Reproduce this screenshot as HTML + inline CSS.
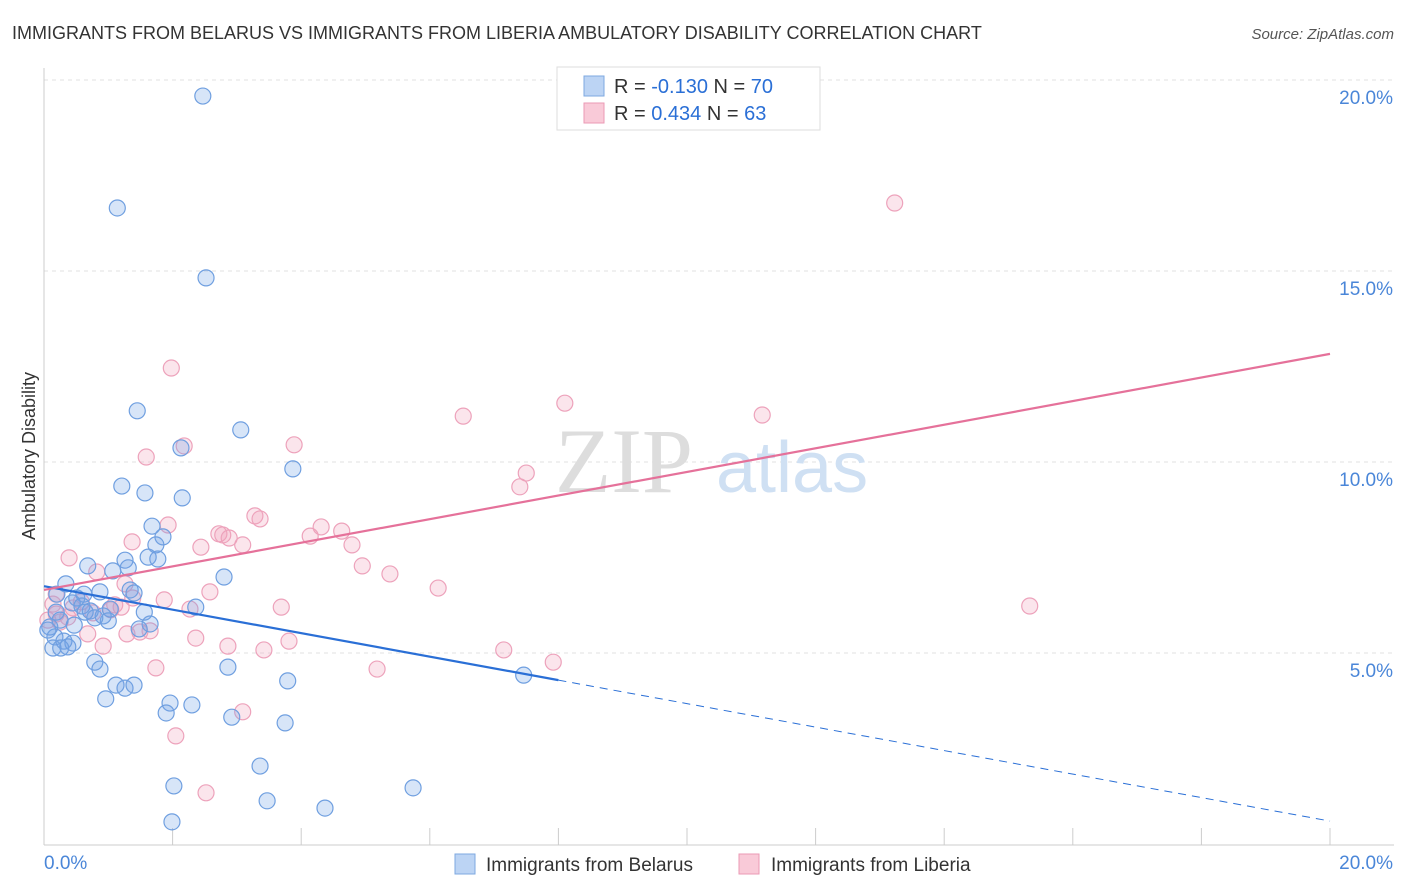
<!DOCTYPE html>
<html><head><meta charset="utf-8"><style>
body{margin:0;background:#fff;font-family:"Liberation Sans",sans-serif;}
svg{display:block}
</style></head><body>
<svg width="1406" height="892" viewBox="0 0 1406 892">
<text x="12" y="39" font-size="18" fill="#333">IMMIGRANTS FROM BELARUS VS IMMIGRANTS FROM LIBERIA AMBULATORY DISABILITY CORRELATION CHART</text>
<text x="1394" y="39" font-size="15" fill="#555" font-style="italic" text-anchor="end">Source: ZipAtlas.com</text>
<g id="grid"></g>
<text x="555" y="492" font-size="92" fill="#ddd" font-family="Liberation Serif,serif">ZIP</text>
<text x="716" y="492" font-size="72" fill="#cfe0f3">atlas</text>
<text transform="translate(35,456) rotate(-90)" font-size="18" fill="#333" text-anchor="middle">Ambulatory Disability</text>
<g id="marks"></g>
<g>
<rect x="557" y="67" width="263" height="63" fill="#fff" stroke="#ddd"/>
<rect x="584" y="76" width="20" height="20" fill="#bcd4f4" stroke="#7ea8e0"/>
<rect x="584" y="103" width="20" height="20" fill="#f9cad8" stroke="#eb9ab5"/>
<text x="614" y="93" font-size="20" fill="#333">R = <tspan fill="#2a6fd6">-0.130</tspan>   N = <tspan fill="#2a6fd6">70</tspan></text>
<text x="614" y="120" font-size="20" fill="#333">R =  <tspan fill="#2a6fd6">0.434</tspan>   N = <tspan fill="#2a6fd6">63</tspan></text>
</g>
<g>
<rect x="455" y="854" width="20" height="20" fill="#bcd4f4" stroke="#7ea8e0"/>
<text x="486" y="871" font-size="19" fill="#333">Immigrants from Belarus</text>
<rect x="739" y="854" width="20" height="20" fill="#f9cad8" stroke="#eb9ab5"/>
<text x="771" y="871" font-size="19" fill="#333">Immigrants from Liberia</text>
</g>
</svg>
<script>
const yTicks=[5,10,15,20];
const yTickLabels=["5.0%","10.0%","15.0%","20.0%"];
const xTicks=[0,2,4,6,8,10,12,14,16,18,20];
const blueX=[2.47,1.14,2.52,1.45,3.06,2.13,3.87,1.21,1.57,2.15,1.68,1.85,1.74,1.62,1.77,1.26,0.68,1.07,1.31,2.80,0.34,1.34,1.40,0.87,0.62,0.20,0.51,0.44,0.59,2.36,1.56,0.72,0.92,1.00,0.79,0.25,0.47,0.09,1.65,1.48,0.17,0.31,0.45,0.14,0.26,0.37,0.79,0.87,2.86,7.46,3.79,1.12,1.26,1.40,0.96,1.96,2.30,1.90,2.92,3.75,3.36,2.02,5.74,3.47,4.37,1.99,0.06,0.19,0.64,1.03];
const blueY=[19.58,16.65,14.82,11.34,10.84,10.37,9.82,9.37,9.19,9.06,8.32,8.04,7.83,7.51,7.46,7.43,7.28,7.15,7.23,6.99,6.81,6.65,6.57,6.60,6.54,6.54,6.44,6.31,6.23,6.20,6.07,6.10,5.97,5.84,5.92,5.86,5.73,5.68,5.76,5.63,5.42,5.31,5.26,5.13,5.13,5.16,4.76,4.58,4.63,4.42,4.27,4.16,4.08,4.16,3.80,3.69,3.64,3.43,3.32,3.17,2.04,1.52,1.47,1.13,0.94,0.58,5.60,6.07,6.07,6.15];
const pinkX=[13.23,1.98,8.10,11.17,6.52,2.18,3.89,1.59,7.50,7.40,3.28,3.36,1.93,4.31,4.63,4.14,2.72,2.78,2.88,1.37,3.09,2.44,4.79,0.39,4.95,0.82,5.38,1.26,6.13,2.58,1.38,0.58,1.87,15.33,3.69,2.27,1.10,1.20,0.14,0.45,1.04,0.19,0.76,0.37,0.06,0.25,1.49,1.65,1.29,0.68,3.81,2.36,2.86,3.42,0.92,7.15,7.92,1.74,5.18,3.09,2.05,2.52,0.19];
const pinkY=[16.78,12.46,11.54,11.23,11.20,10.42,10.45,10.13,9.71,9.35,8.59,8.51,8.35,8.30,8.19,8.06,8.12,8.09,8.01,7.91,7.83,7.77,7.83,7.49,7.28,7.12,7.07,6.81,6.70,6.60,6.44,6.34,6.39,6.23,6.20,6.15,6.26,6.20,6.28,6.18,6.13,6.02,6.05,5.94,5.86,5.81,5.55,5.58,5.50,5.50,5.31,5.39,5.18,5.08,5.18,5.08,4.76,4.61,4.58,3.46,2.83,1.34,6.54];
const blueTrend=[6.75,0.60]; // y at x=0 and x=20
const blueSolidEnd=8;
const pinkTrend=[6.65,12.83];
const NS="http://www.w3.org/2000/svg";
const xS=v=>44+v/20*1286;
const yS=v=>844-v/5*191;
function mk(tag,attrs,parent){const e=document.createElementNS(NS,tag);for(const k in attrs)e.setAttribute(k,attrs[k]);parent.appendChild(e);return e;}
const grid=document.getElementById('grid');
yTicks.forEach((t,i)=>{
 const l=mk('line',{x1:44,x2:1394,y1:yS(t),y2:yS(t),stroke:'#e2e2e2','stroke-dasharray':'4,4'},grid);
 
 
 const tx=mk('text',{x:1393,y:yS(t)+24,'font-size':19,fill:'#4a86d8','text-anchor':'end'},grid);
 tx.textContent=yTickLabels[i];
 
 
});
const ax=mk('line',{x1:44,x2:1394,y1:845,y2:845,stroke:'#ccc'},grid);


const ay=mk('line',{x1:44,x2:44,y1:68,y2:845,stroke:'#ccc'},grid);


xTicks.forEach(t=>{
 const l=mk('line',{x1:xS(t),x2:xS(t),y1:828,y2:845,stroke:'#ccc'},grid);
 
 
});
const xl0=mk('text',{x:44,y:869,'font-size':19,fill:'#4a86d8'},grid);xl0.textContent='0.0%';


const xl1=mk('text',{x:1393,y:869,'font-size':19,fill:'#4a86d8','text-anchor':'end'},grid);xl1.textContent='20.0%';


const marks=document.getElementById('marks');
pinkX.forEach((x,i)=>{
 const c=mk('circle',{cx:xS(x),cy:yS(pinkY[i]),r:8,fill:'rgba(242,160,188,0.28)',stroke:'#eda2bb','stroke-width':1.2},marks);
 
 
});
blueX.forEach((x,i)=>{
 const c=mk('circle',{cx:xS(x),cy:yS(blueY[i]),r:8,fill:'rgba(110,160,230,0.28)',stroke:'#6f9fe0','stroke-width':1.2},marks);
 
 
});
const bAt=x=>blueTrend[0]+(blueTrend[1]-blueTrend[0])*x/20;
const b1=mk('line',{x1:xS(0),y1:yS(bAt(0)),x2:xS(blueSolidEnd),y2:yS(bAt(blueSolidEnd)),stroke:'#2a6fd6','stroke-width':2.2},marks);


const b2=mk('line',{x1:xS(blueSolidEnd),y1:yS(bAt(blueSolidEnd)),x2:xS(20),y2:yS(bAt(20)),stroke:'#2a6fd6','stroke-width':1,'stroke-dasharray':'8,6'},marks);


const p1=mk('line',{x1:xS(0),y1:yS(pinkTrend[0]),x2:xS(20),y2:yS(pinkTrend[1]),stroke:'#e5719a','stroke-width':2.2},marks);


</script>
</body></html>
